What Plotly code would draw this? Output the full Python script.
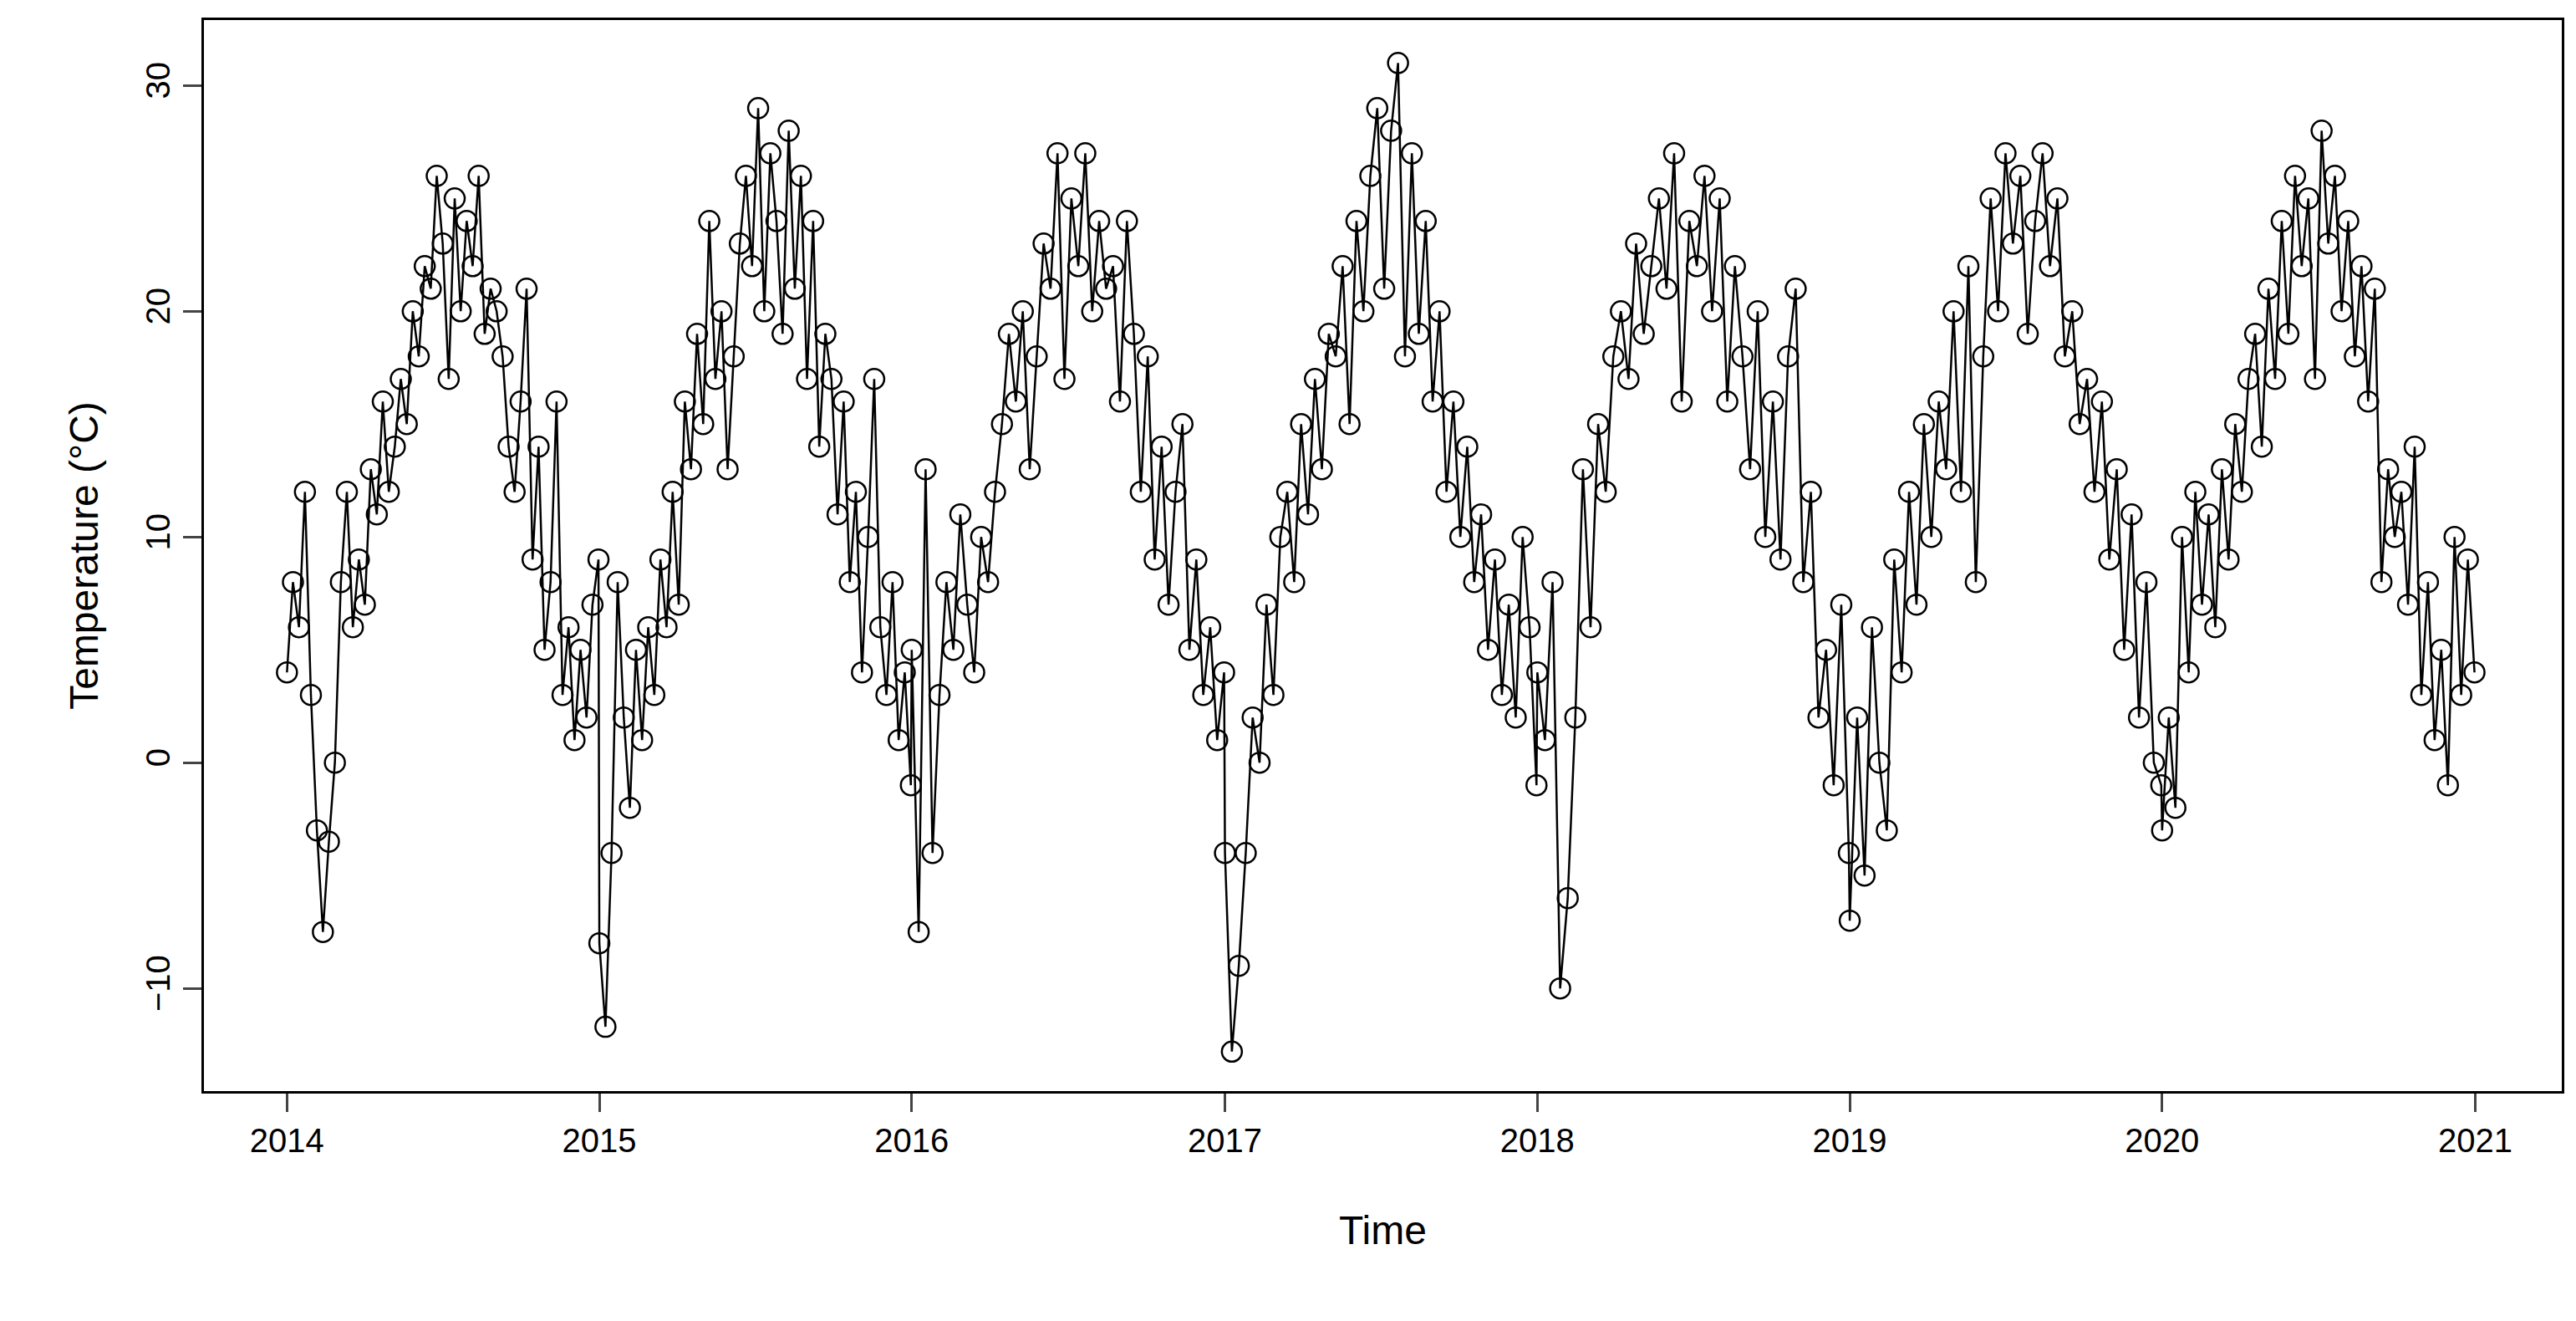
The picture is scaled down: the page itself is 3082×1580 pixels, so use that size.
import plotly.graph_objects as go
import pandas as pd

t2014 = [4,8,6,12,3,-3,-7.5,-3.5,0,8,12,6,9,7,13,11,16,12,14,17,15,20,18,22,21,26,23,17,25,20,24,22,26,19,21,20,18,14,12,16,21,9,14,5,8,16,3,6,1,5,2,7,9]
t2015 = [-8,-11.7,-4,8,2,-2,5,1,6,3,9,6,12,7,16,13,19,15,24,17,20,13,18,23,26,22,29,20,27,24,19,28,21,26,17,24,14,19,17,11,16,8,12,4,10,17,6,3,8,1,4,-1]
t2016 = [5,-7.5,13,-4,3,8,5,11,7,4,10,8,12,15,19,16,20,13,18,23,21,27,17,25,22,27,20,24,21,22,16,24,19,12,18,9,14,7,12,15,5,9,3,6,1,4]
t2017 = [-4,-12.8,-9,-4,2,0,7,3,10,12,8,15,11,17,13,19,18,22,15,24,20,26,29,21,28,31,18,27,19,24,16,20,12,16,10,14,8,11,5,9,3,7,2,10,6,-1]
t2018 = [4,1,8,-10,-6,2,13,6,15,12,18,20,17,23,19,22,25,21,27,16,24,22,26,20,25,16,22,18,13,20,10,16,9,18,21,8,12,2,5,-1,7,-4]
t2019 = [-7,2,-5,6,0,-3,9,4,12,7,15,10,16,13,20,12,22,8,18,25,20,27,23,26,19,24,27,22,25,18,20,15,17,12,16,9,13,5,11,2,8,0,-1]
t2020 = [-3,2,-2,10,4,12,7,11,6,13,9,15,12,17,19,14,21,17,24,19,26,22,25,17,28,23,26,20,24,18,22,16,21,8,13,10,12,7,14,3,8,1,5,-1,10,3,9,4]
years = [2014, 2015, 2016, 2017, 2018, 2019, 2020]
series = [t2014, t2015, t2016, t2017, t2018, t2019, t2020]

x, y = [], []
for yr, vals in zip(years, series):
    d = pd.date_range(f"{yr}-01-01", f"{yr}-12-31", periods=len(vals))
    x += list(d)
    y += vals

fig = go.Figure(go.Scatter(
    x=x, y=y, mode="lines+markers",
    line=dict(color="black", width=2.5),
    marker=dict(symbol="circle-open", size=24, color="black", line=dict(width=2.5)),
))
font = dict(family="Liberation Sans, Arial, sans-serif", size=40, color="black")
fig.update_layout(
    width=3082, height=1580, plot_bgcolor="white", paper_bgcolor="white",
    margin=dict(l=236, r=25, t=16, b=283), showlegend=False, font=font,
)
fig.update_xaxes(
    range=["2013-09-26", "2021-04-12"], tickvals=[f"{yr}-01-01" for yr in range(2014, 2022)],
    ticktext=[str(v) for v in range(2014, 2022)], ticks="outside", ticklen=22, tickwidth=2.5,
    showline=True, mirror=True, linecolor="black", linewidth=2.5, showgrid=False, zeroline=False,
    title=dict(text="Time", standoff=70),
)
fig.update_yaxes(
    range=[-14.55, 32.9], tickvals=[-10, 0, 10, 20, 30], ticks="outside", ticklen=22, tickwidth=2.5,
    tickangle=-90, showline=True, mirror=True, linecolor="black", linewidth=2.5,
    showgrid=False, zeroline=False, title=dict(text="Temperature (°C)", standoff=35),
)
fig.write_html("out.html")
